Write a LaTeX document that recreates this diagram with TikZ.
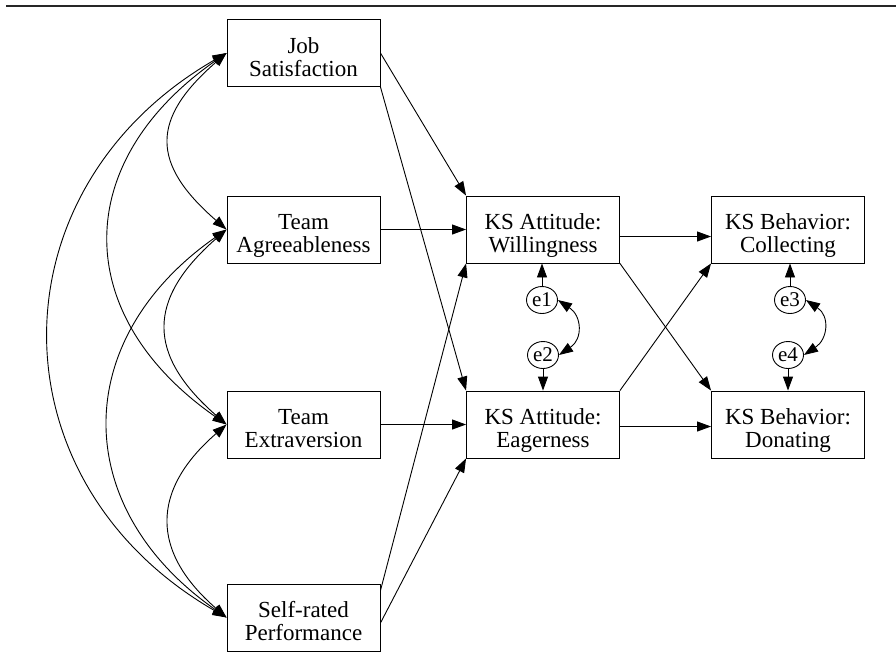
\documentclass[tikz,border=0pt]{standalone}
\usepackage{fontspec}
\setmainfont{Liberation Serif}
\usetikzlibrary{arrows.meta,shapes.geometric,calc}
\newcommand{\twoline}[2]{\smash{\raisebox{-0.3pt}{\begin{tabular}[t]{@{}c@{}}#1\\#2\end{tabular}}}}
\begin{document}
\begin{tikzpicture}[x=1pt,y=-1pt,
  box/.style={draw, line width=0.9pt, minimum width=153pt, minimum height=67pt, inner sep=0pt, font=\fontsize{23}{23}\selectfont},
  err/.style={draw, ellipse, line width=0.9pt, minimum width=31pt, minimum height=27pt, inner sep=0pt, font=\fontsize{21}{21}\selectfont},
  conn/.style={-{Triangle[length=14pt,width=10pt]}, line width=0.9pt},
  cov/.style={{Triangle[length=14pt,width=10pt]}-{Triangle[length=14pt,width=10pt]}, line width=0.9pt}]
\useasboundingbox (0,0) rectangle (896,662);
\draw[line width=2.5pt, black!85] (6,6) -- (896,6);
\node[box] (js) at (303.5,53) {\twoline{Job}{Satisfaction}};
\node[box] (ta) at (303.5,229.5) {\twoline{Team}{Agreeableness}};
\node[box] (te) at (303.5,424.5) {\twoline{Team}{Extraversion}};
\node[box] (sp) at (303.5,617.5) {\twoline{Self-rated}{Performance}};
\node[box] (w) at (543,229.5) {\twoline{KS Attitude:}{Willingness}};
\node[box] (e) at (543,424.5) {\twoline{KS Attitude:}{Eagerness}};
\node[box] (c) at (788,229.5) {\twoline{KS Behavior:}{Collecting}};
\node[box] (d) at (788,424.5) {\twoline{KS Behavior:}{Donating}};
\node[err] (e1) at (542,300) {e1};
\node[err] (e2) at (543,355) {e2};
\node[err] (e3) at (790,300) {e3};
\node[err] (e4) at (788,355) {e4};
% covariances among exogenous variables
\draw[cov] (js.west) .. controls +(-76,66) and +(-76,-66) .. (ta.west);
\draw[cov] (js.west) .. controls +(-156,109) and +(-156,-109) .. (te.west);
\draw[cov] (js.west) .. controls +(-236,136) and +(-236,-136) .. (sp.west);
\draw[cov] (ta.west) .. controls +(-80,70) and +(-80,-70) .. (te.west);
\draw[cov] (ta.west) .. controls +(-157,110) and +(-157,-110) .. (sp.west);
\draw[cov] (te.west) .. controls +(-76,66) and +(-76,-66) .. (sp.west);
% paths
\draw[conn] (js.east) -- (w.north west);
\draw[conn] (js.south east) -- (e.north west);
\draw[conn] (ta.east) -- (w.west);
\draw[conn] (te.east) -- (e.west);
\draw[conn] ($(sp.north east)+(0,7)$) -- (w.south west);
\draw[conn] ($(sp.east)+(0,5.5)$) -- (e.south west);
\draw[conn] ($(w.east)+(0,7)$) -- ($(c.west)+(0,7)$);
\draw[conn] (w.south east) -- (d.north west);
\draw[conn] (e.north east) -- (c.south west);
\draw[conn] ($(e.east)+(0,2)$) -- ($(d.west)+(0,2)$);
% residuals
\draw[conn] (e1.north) -- (e1.north |- w.south);
\draw[conn] (e2.south) -- (e2.south |- e.north);
\draw[conn] (e3.north) -- (e3.north |- c.south);
\draw[conn] (e4.south) -- (e4.south |- d.north);
\draw[cov] (e1.east) .. controls +(24,16) and +(24,-16) .. (e2.east);
\draw[cov] (e3.east) .. controls +(24,16) and +(24,-16) .. (e4.east);
\end{tikzpicture}
\end{document}
